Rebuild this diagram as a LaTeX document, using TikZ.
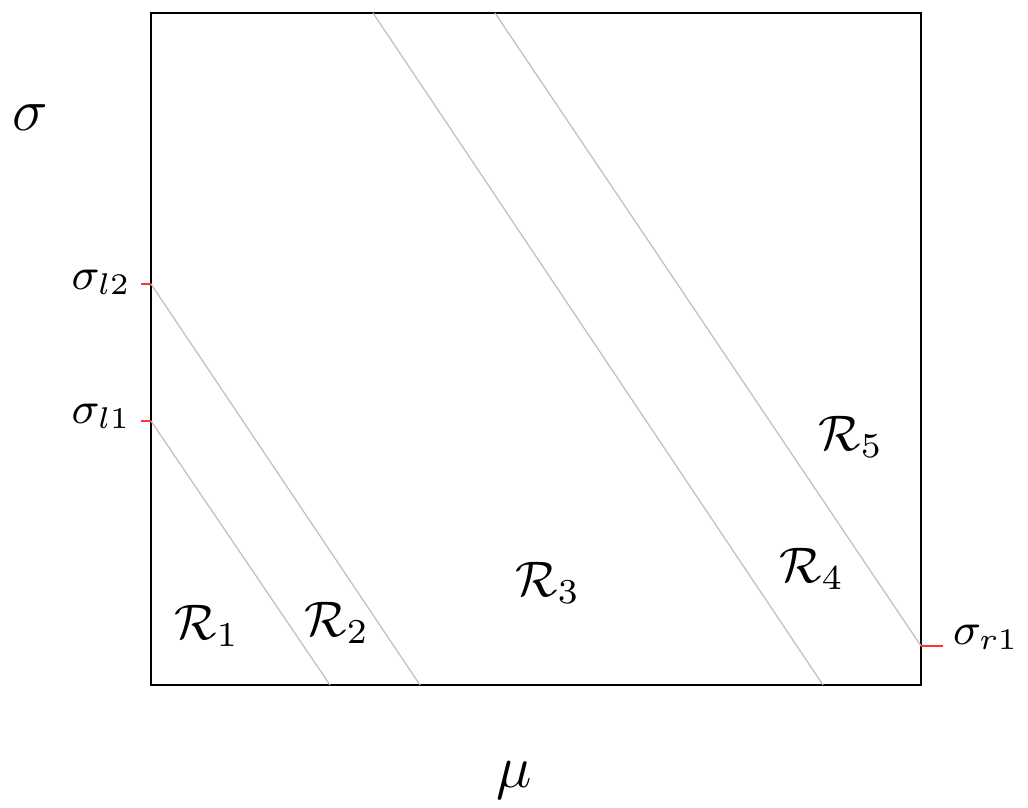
\documentclass[tikz,border=0pt]{standalone}
\begin{document}
\begin{tikzpicture}[x=0.2pt,y=-0.2pt,
  frame/.style={draw=black,line width=0.45pt},
  sep/.style={draw=black!25,line width=0.25pt},
  tick/.style={draw=red!80!white,line width=0.35pt},
  ticklab/.style={font=\small,inner sep=0pt},
  reglab/.style={font=\normalsize,inner sep=0pt},
  axlab/.style={font=\large,inner sep=0pt}]
\useasboundingbox (0,0) rectangle (1028,808);
\coordinate (bl) at (151,685);
\coordinate (tr) at (921,13);
\draw[frame] (bl) rectangle (tr);
% separator end points
\coordinate (l1) at (151,421);
\coordinate (l2) at (151,284);
\coordinate (b1) at (330,685);
\coordinate (b2) at (420,685);
\coordinate (t3) at (373,13);
\coordinate (b3) at (823,685);
\coordinate (t4) at (495,13);
\coordinate (r1) at (921,646);
\draw[sep] (l1) -- (b1);
\draw[sep] (l2) -- (b2);
\draw[sep] (t3) -- (b3);
\draw[sep] (t4) -- (r1);
% ticks
\coordinate (tl1) at (141,421);
\coordinate (tl2) at (141,284);
\coordinate (tr1) at (943,646);
\draw[tick] (tl1) -- (l1);
\draw[tick] (tl2) -- (l2);
\draw[tick] (r1) -- (tr1);
% labels
\node[ticklab,anchor=east] (sl2) at (132,282) {$\sigma_{l2}$};
\node[ticklab,anchor=east] (sl1) at (132,416) {$\sigma_{l1}$};
\node[ticklab,anchor=west] (sr1) at (952,637) {$\sigma_{r1}$};
\node[reglab] (R1) at (207,626) {$\mathcal{R}_1$};
\node[reglab] (R2) at (337,623) {$\mathcal{R}_2$};
\node[reglab] (R3) at (548,583) {$\mathcal{R}_3$};
\node[reglab] (R4) at (812,569) {$\mathcal{R}_4$};
\node[reglab] (R5) at (851,437) {$\mathcal{R}_5$};
\node[axlab] (sig) at (30,118) {$\sigma$};
\node[axlab] (mu) at (514,780) {$\mu$};
\end{tikzpicture}
\end{document}
